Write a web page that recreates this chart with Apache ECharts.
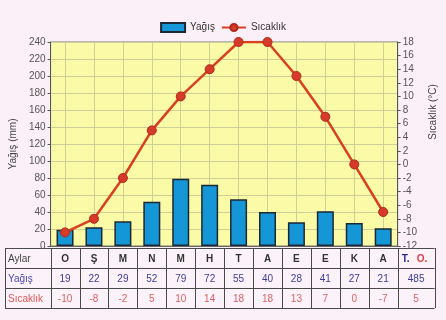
<!DOCTYPE html>
<html><head><meta charset="utf-8">
<script src="https://cdn.jsdelivr.net/npm/echarts@6/dist/echarts.min.js"></script>
<style>html,body{margin:0;padding:0;background:#fbeff8;}#c{width:446px;height:320px;}</style>
</head><body><div id="c"></div>
<script>
// Climate chart: monthly precipitation (bars) and temperature (line)
const months = ['O', 'Ş', 'M', 'N', 'M', 'H', 'T', 'A', 'E', 'E', 'K', 'A'];
const rain = [19, 22, 29, 52, 79, 72, 55, 40, 28, 41, 27, 21];
const temp = [-10, -8, -2, 5, 10, 14, 18, 18, 13, 7, 0, -7];
const rainTotal = 485;
const tempMean = 5;

const FONT = '"Liberation Sans Narrow", "Arial Narrow", "Liberation Sans", sans-serif';
const chart = echarts.init(document.getElementById('c'), null, { renderer: 'canvas' });

const option = {
  backgroundColor: '#fbeff8',
  animation: false,
  textStyle: { fontFamily: FONT },
  legend: {
    top: 17, left: 'center', itemWidth: 24, itemHeight: 9, itemGap: 6,
    textStyle: { fontSize: 10, color: '#333', fontFamily: FONT },
    data: [{ name: 'Yağış', icon: 'rect' }, { name: 'Sıcaklık' }]
  },
  grid: {
    left: 46, right: 41, top: 42, bottom: 74, show: true,
    backgroundColor: '#fbfaa6', borderColor: '#777', borderWidth: 1
  },
  xAxis: {
    type: 'category', data: months, boundaryGap: true,
    axisLine: { show: true, lineStyle: { color: '#666' } },
    axisTick: { show: false }, axisLabel: { show: false },
    splitLine: { show: true, alignWithLabel: true, lineStyle: { color: '#cfcf98', width: 1 } }
  },
  yAxis: [
    {
      type: 'value', min: 0, max: 240, interval: 20,
      name: 'Yağış (mm)', nameLocation: 'middle', nameGap: 28, nameRotate: 90,
      nameTextStyle: { fontSize: 10, color: '#444', fontFamily: FONT },
      axisLine: { show: true, lineStyle: { color: '#555' } },
      axisTick: { show: true, length: 3, lineStyle: { color: '#555' } },
      axisLabel: { fontSize: 10, color: '#555', margin: 5, fontFamily: FONT },
      splitLine: { show: true, lineStyle: { color: '#cfcf98', width: 1 } }
    },
    {
      type: 'value', min: -12, max: 18, interval: 2, position: 'right',
      name: 'Sıcaklık (°C)', nameLocation: 'middle', nameGap: 24, nameRotate: 90,
      nameTextStyle: { fontSize: 10, color: '#444', fontFamily: FONT, padding: [0, 0, 0, 64] },
      axisLine: { show: true, lineStyle: { color: '#555' } },
      axisTick: { show: true, length: 3, lineStyle: { color: '#555' } },
      axisLabel: { fontSize: 10, color: '#555', margin: 5, fontFamily: FONT },
      splitLine: { show: false }
    }
  ],
  series: [
    {
      name: 'Yağış', type: 'bar', data: rain, barWidth: 17,
      itemStyle: { color: '#1596d6', borderColor: '#1c2833', borderWidth: 1.5 }
    },
    {
      name: 'Sıcaklık', type: 'line', yAxisIndex: 1, data: temp,
      symbol: 'circle', symbolSize: 9,
      lineStyle: { color: '#d8401f', width: 2.5 },
      itemStyle: { color: '#d63a2a', borderColor: '#b0281a', borderWidth: 1 }
    }
  ]
};
chart.setOption(option);

// Data table under the plot, aligned with the category columns
function buildTable() {
  const c0 = chart.convertToPixel({ xAxisIndex: 0 }, 0);
  const c1 = chart.convertToPixel({ xAxisIndex: 0 }, 1);
  const w = c1 - c0;
  const left = c0 - w / 2;
  const yBase = chart.convertToPixel({ yAxisIndex: 0 }, 0);
  const top = Math.round(yBase) + 2;
  const rowH = 20;
  const tableLeft = 5;
  const lastW = 37;
  const right = left + w * months.length + lastW;
  const els = [];
  const lineStyle = { stroke: '#4a4a4a', lineWidth: 1 };
  els.push({ type: 'rect', shape: { x: tableLeft, y: top, width: right - tableLeft, height: rowH * 3 }, style: { fill: '#fcf3fa' } });
  for (let r = 0; r <= 3; r++) {
    const y = Math.round(top + r * rowH) + 0.5;
    els.push({ type: 'line', shape: { x1: tableLeft, y1: y, x2: right, y2: y }, style: lineStyle });
  }
  const edges = [tableLeft];
  for (let i = 0; i <= months.length; i++) edges.push(left + i * w);
  edges.push(right);
  edges.forEach(x => {
    const xx = Math.round(x) + 0.5;
    els.push({ type: 'line', shape: { x1: xx, y1: top, x2: xx, y2: top + rowH * 3 }, style: lineStyle });
  });
  const txt = (x, y, s, color, align, weight) => ({
    type: 'text', x: x, y: y,
    style: { text: String(s), fill: color, font: (weight || 'normal') + ' 10px ' + FONT, align: align || 'center', verticalAlign: 'middle' }
  });
  const rowY = r => top + r * rowH + rowH / 2 + 1;
  els.push(txt(tableLeft + 3, rowY(0), 'Aylar', '#444', 'left'));
  els.push(txt(tableLeft + 3, rowY(1), 'Yağış', '#4747b8', 'left'));
  els.push(txt(tableLeft + 3, rowY(2), 'Sıcaklık', '#e05555', 'left'));
  months.forEach((m, i) => {
    const cx = left + (i + 0.5) * w;
    els.push(txt(cx, rowY(0), m, '#333', 'center', 'bold'));
    els.push(txt(cx, rowY(1), rain[i], '#3b3ba0'));
    els.push(txt(cx, rowY(2), temp[i], '#e06060'));
  });
  const lx = left + w * months.length;
  els.push(txt(lx + 4, rowY(0), 'T.', '#2a2a90', 'left', 'bold'));
  els.push(txt(lx + 19, rowY(0), 'O.', '#e04040', 'left', 'bold'));
  els.push(txt(lx + lastW / 2, rowY(1), rainTotal, '#3b3ba0'));
  els.push(txt(lx + lastW / 2, rowY(2), tempMean, '#e06060'));
  chart.setOption({ graphic: { elements: els } });
}
buildTable();
</script>
</body></html>
